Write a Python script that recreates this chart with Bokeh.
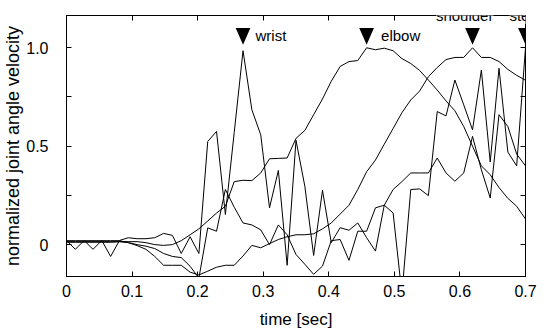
from bokeh.plotting import figure
from bokeh.models import Range1d, FixedTicker, LinearAxis, Label
from bokeh.embed import file_html
from bokeh.resources import INLINE

# ---------------- data ----------------
time_sec = [0.0, 0.0135, 0.0269, 0.0404, 0.0538, 0.0673, 0.0808, 0.0942, 0.1077, 0.1212,
            0.1346, 0.1481, 0.1615, 0.1750, 0.1885, 0.2019, 0.2154, 0.2288, 0.2423, 0.2558,
            0.2692, 0.2827, 0.2962, 0.3096, 0.3231, 0.3365, 0.3500, 0.3635, 0.3769, 0.3904,
            0.4038, 0.4173, 0.4308, 0.4442, 0.4577, 0.4712, 0.4846, 0.4981, 0.5115, 0.5250,
            0.5385, 0.5519, 0.5654, 0.5788, 0.5923, 0.6058, 0.6192, 0.6327, 0.6462, 0.6596,
            0.6731, 0.6865, 0.7000]

wrist = [0.021, -0.024, 0.021, -0.024, 0.021, -0.06, 0.021, 0.035, 0.03, 0.03,
         0.035, 0.057, 0.047, -0.045, 0.04, -0.045, 0.524, 0.575, 0.153, 0.57,
         0.985, 0.685, 0.558, 0.187, 0.377, -0.105, 0.53, 0.296, -0.055, 0.276,
         0.01, 0.086, 0.073, 0.11, 0.035, -0.033, 0.2, 0.28, 0.32, 0.364,
         0.364, 0.364, 0.44, 0.364, 0.322, 0.364, 0.55, 0.38, 0.237, 0.66,
         0.60, 0.46, 0.40]

elbow = [0.015, 0.015, 0.015, 0.015, 0.015, 0.015, 0.015, 0.015, 0.015, 0.01,
         0.0, -0.004, 0.0, 0.02, 0.05, 0.08, 0.12, 0.16, 0.195, 0.32,
         0.327, 0.325, 0.364, 0.436, 0.438, 0.44, 0.54, 0.58, 0.66, 0.74,
         0.83, 0.905, 0.93, 0.935, 1.0, 0.99, 0.998, 0.985, 0.945, 0.92,
         0.885, 0.836, 0.785, 0.73, 0.68, 0.60, 0.50, 0.40, 0.355, 0.29,
         0.235, 0.195, 0.13]

shoulder = [0.02, 0.02, 0.02, 0.02, 0.02, 0.02, 0.02, 0.01, -0.005, -0.024,
            -0.06, -0.105, -0.105, -0.105, -0.14, -0.154, -0.135, -0.115, -0.105, -0.105,
            -0.058, -0.004, -0.016, 0.005, 0.026, 0.04, 0.05, 0.05, 0.055, 0.08,
            0.11, 0.155, 0.2, 0.28, 0.37, 0.43, 0.51, 0.59, 0.67, 0.735,
            0.78, 0.853, 0.9, 0.94, 0.951, 0.951, 1.0, 0.951, 0.951, 0.93,
            0.89, 0.86, 0.835]

sternum = [0.012, 0.012, 0.012, 0.012, 0.012, 0.012, 0.015, 0.01, 0.0, -0.008,
           -0.02, -0.045, -0.06, -0.066, -0.11, -0.17, 0.085, 0.068, 0.28, 0.19,
           0.11, 0.10, 0.075, 0.0, 0.10, 0.05, -0.05, -0.1, -0.151, -0.109,
           0.02, 0.026, -0.08, 0.068, 0.068, 0.187, 0.2, 0.161, -0.25, 0.28,
           0.283, 0.249, 0.676, 0.654, 0.836, 0.71, 0.583, 0.887, 0.42, 0.896,
           0.47, 0.40, 1.0]

joint_names = ["wrist", "elbow", "shoulder", "sternum"]
joint_series = [wrist, elbow, shoulder, sternum]

x_ticks = [0, 0.1, 0.2, 0.3, 0.4, 0.5, 0.6, 0.7]
x_tick_labels = ["0", "0.1", "0.2", "0.3", "0.4", "0.5", "0.6", "0.7"]
y_ticks = [0, 0.25, 0.5, 0.75, 1.0]
y_tick_labels = ["0", "", "0.5", "", "1.0"]

# ---------------- figure ----------------
FONT = "Liberation Sans"

p = figure(width=560, height=333, output_backend="svg", toolbar_location=None,
           x_range=Range1d(0, 0.7), y_range=Range1d(-0.162, 1.164),
           min_border_left=66, min_border_right=35, min_border_top=15, min_border_bottom=57,
           x_axis_label="time [sec]", y_axis_label="normalized joint angle velocity")
p.xgrid.visible = False
p.ygrid.visible = False
p.outline_line_color = "black"
p.outline_line_width = 1
p.background_fill_color = "white"
p.border_fill_color = "white"

for series in joint_series:
    p.line(time_sec, series, line_color="black", line_width=1)

# peak markers (inverted triangles) and joint labels
TRI_TOP, TRI_TIP, TRI_HALF = 1.10, 1.015, 0.0112
label_cfg = {
    "wrist":    dict(dx=0.019, y=1.062, align="left", bg=None),
    "elbow":    dict(dx=0.022, y=1.062, align="left", bg=None),
    "shoulder": dict(dx=-0.012, y=1.164, align="center", bg="white"),
    "sternum":  dict(dx=-0.0245, y=1.164, align="left", bg="white"),
}
xs, ys = [], []
for name, series in zip(joint_names, joint_series):
    k = max(range(len(series)), key=lambda i: series[i])
    tp = time_sec[k]
    xs.append([tp - TRI_HALF, tp + TRI_HALF, tp])
    ys.append([TRI_TOP, TRI_TOP, TRI_TIP])
    c = label_cfg[name]
    p.add_layout(Label(x=tp + c["dx"], y=c["y"], x_units="data", y_units="data",
                       text=name, text_font=FONT, text_font_size="15px",
                       text_color="black", text_align=c["align"], text_baseline="middle",
                       background_fill_color=c["bg"]))
p.patches(xs, ys, fill_color="black", line_color=None)

# axes styling (MATLAB-like box with inward ticks)
p.xaxis.ticker = FixedTicker(ticks=x_ticks)
p.xaxis.major_label_overrides = {t: l for t, l in zip(x_ticks, x_tick_labels)}
p.yaxis.ticker = FixedTicker(ticks=y_ticks)
p.yaxis.major_label_overrides = {t: l for t, l in zip(y_ticks, y_tick_labels)}

for ax in [p.xaxis[0], p.yaxis[0]]:
    ax.major_tick_in = 5
    ax.major_tick_out = 0
    ax.minor_tick_line_color = None
    ax.axis_line_color = "black"
    ax.major_tick_line_color = "black"
    ax.major_label_text_font = FONT
    ax.major_label_text_font_size = "16px"
    ax.major_label_text_color = "black"
    ax.axis_label_text_font = FONT
    ax.axis_label_text_font_style = "normal"
    ax.axis_label_text_color = "black"

p.xaxis.major_label_standoff = 8
p.xaxis.axis_label_text_font_size = "17px"
p.xaxis.axis_label_standoff = 10
p.yaxis.major_label_standoff = 18
p.yaxis.axis_label_text_font_size = "18px"
p.yaxis.axis_label_standoff = 0

# box sides: ticks only, no labels
for ticks, side in [(y_ticks, "right"), (x_ticks, "above")]:
    ax = LinearAxis(ticker=FixedTicker(ticks=ticks), major_label_text_font_size="8px",
                    major_label_text_color=None, major_tick_in=5, major_tick_out=0,
                    major_label_standoff=0, minor_tick_line_color=None,
                    axis_line_color="black", major_tick_line_color="black")
    p.add_layout(ax, side)

open("out.html", "w").write(file_html(p, INLINE))
